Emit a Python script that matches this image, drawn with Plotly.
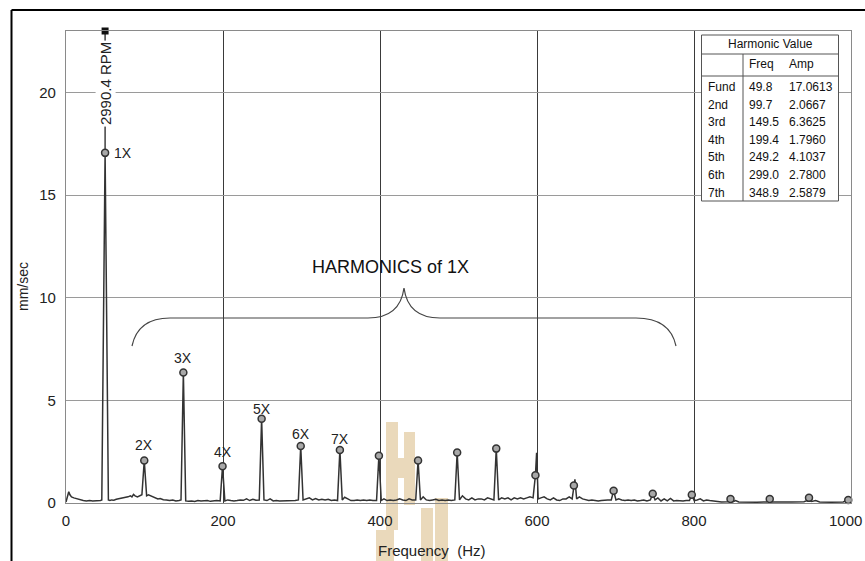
import plotly.graph_objects as go

# ---- harmonic table values (first seven orders) ----
harm_names = ["Fund", "2nd", "3rd", "4th", "5th", "6th", "7th"]
harm_freq = [49.8, 99.7, 149.5, 199.4, 249.2, 299.0, 348.9]
harm_amp = [17.0613, 2.0667, 6.3625, 1.7960, 4.1037, 2.7800, 2.5879]
harm_labels = ["1X", "2X", "3X", "4X", "5X", "6X", "7X"]

# ---- higher orders marked on the spectrum (8X .. 20X) ----
high_freq = [398.6, 448.5, 498.3, 548.1, 598.0, 647.0, 697.6,
             747.4, 797.2, 846.5, 896.5, 946.5, 996.5]
high_amp = [2.30, 2.07, 2.46, 2.65, 1.35, 0.85, 0.60,
            0.45, 0.40, 0.20, 0.20, 0.25, 0.15]

# ---- peaks that sit just beside a harmonic marker ----
extra_freq = [599.5, 648.3]
extra_amp = [2.45, 1.15]

# ---- noise floor and peak shoulders of the spectrum ----
floor_freq = [
    0, 2, 3.5, 5, 7, 10, 14, 18, 22, 26, 30, 34, 38, 42, 44, 45.6, 54.0,
    56, 58, 61, 64, 67, 70, 73, 76, 79, 82, 84, 86, 88, 91, 94, 96.7, 102.7,
    105, 108, 111, 114, 117, 120, 124, 128, 132, 136, 140, 144, 146.5, 152.5,
    156, 160, 164, 168, 172, 176, 180, 184, 188, 192, 196.4, 202.4,
    206, 210, 214, 218, 222, 226, 230, 234, 238, 242, 246.2, 252.2,
    256, 260, 264, 268, 272, 276, 280, 284, 288, 292, 296.0, 302.0,
    306, 310, 314, 318, 322, 326, 330, 334, 338, 342, 345.9, 351.9,
    355, 359, 363, 367, 371, 375, 379, 383, 387, 391, 395.6, 401.6,
    405, 409, 413, 417, 421, 425, 429, 433, 437, 441, 445.5, 451.5,
    455, 459, 463, 467, 471, 475, 479, 483, 487, 491, 495.3, 501.3,
    505, 509, 513, 517, 521, 525, 529, 533, 537, 541, 545.1, 551.1,
    555, 559, 563, 567, 571, 575, 579, 583, 587, 591, 595, 601.5,
    605, 609, 613, 617, 621, 625, 629, 633, 637, 641, 644.8, 650.5,
    654, 658, 662, 666, 670, 674, 678, 682, 686, 690, 694.6, 700.6,
    704, 708, 712, 716, 720, 724, 728, 732, 736, 740, 744.4, 750.4,
    754, 758, 762, 766, 770, 774, 778, 782, 786, 790, 794.2, 800.2,
    804, 808, 812, 816, 820, 824, 828, 835, 843, 849.5, 853, 857,
    865, 880, 893, 899.5, 910, 925, 940, 943, 950, 955, 960, 975, 990, 1000,
]
floor_amp = [
    0.05, 0.30, 0.55, 0.40, 0.30, 0.25, 0.20, 0.15, 0.12, 0.10, 0.12, 0.10, 0.11, 0.10, 0.12, 0.15, 0.15,
    0.12, 0.15, 0.14, 0.18, 0.20, 0.22, 0.25, 0.28, 0.30, 0.35, 0.30, 0.42, 0.35, 0.30, 0.35, 0.40, 0.35,
    0.40, 0.35, 0.32, 0.28, 0.20, 0.22, 0.16, 0.15, 0.12, 0.15, 0.10, 0.12, 0.15, 0.10,
    0.08, 0.10, 0.07, 0.12, 0.10, 0.10, 0.12, 0.08, 0.10, 0.12, 0.10, 0.10,
    0.15, 0.12, 0.10, 0.12, 0.15, 0.13, 0.20, 0.12, 0.18, 0.14, 0.15, 0.15,
    0.12, 0.20, 0.10, 0.12, 0.10, 0.10, 0.12, 0.10, 0.13, 0.12, 0.15, 0.15,
    0.20, 0.25, 0.15, 0.22, 0.15, 0.18, 0.15, 0.18, 0.12, 0.15, 0.12, 0.15,
    0.28, 0.20, 0.12, 0.12, 0.15, 0.12, 0.15, 0.12, 0.15, 0.12, 0.12, 0.12,
    0.20, 0.12, 0.15, 0.12, 0.15, 0.20, 0.15, 0.12, 0.20, 0.15, 0.15, 0.15,
    0.30, 0.15, 0.12, 0.15, 0.18, 0.12, 0.15, 0.12, 0.15, 0.12, 0.15, 0.15,
    0.35, 0.20, 0.15, 0.25, 0.15, 0.20, 0.20, 0.15, 0.25, 0.20, 0.15, 0.15,
    0.25, 0.20, 0.25, 0.15, 0.25, 0.20, 0.25, 0.20, 0.25, 0.30, 0.25, 0.20,
    0.25, 0.30, 0.20, 0.15, 0.25, 0.15, 0.12, 0.20, 0.20, 0.30, 0.20, 0.20,
    0.30, 0.20, 0.15, 0.12, 0.15, 0.12, 0.10, 0.12, 0.15, 0.15, 0.15, 0.15,
    0.20, 0.15, 0.12, 0.15, 0.12, 0.15, 0.10, 0.12, 0.15, 0.10, 0.15, 0.15,
    0.25, 0.10, 0.20, 0.10, 0.22, 0.10, 0.12, 0.10, 0.10, 0.12, 0.12, 0.12,
    0.15, 0.20, 0.10, 0.15, 0.12, 0.10, 0.05, 0.05, 0.06, 0.06, 0.12, 0.05,
    0.04, 0.04, 0.05, 0.05, 0.04, 0.05, 0.06, 0.10, 0.08, 0.12, 0.05, 0.04, 0.05, 0.10,
]

# axis ticks
x_ticks = [0, 200, 400, 600, 800, 1000]
y_ticks = [0, 5, 10, 15, 20]
X_MAX = 1000
Y_MAX = 23

# cursor readout at the running speed
rpm_text = "2990.4 RPM"

# ---- build the spectrum trace from floor + harmonic apexes ----
pts = list(zip(floor_freq, floor_amp))
pts += list(zip(harm_freq, harm_amp))
pts += list(zip(high_freq, high_amp))
pts += list(zip(extra_freq, extra_amp))
pts.sort(key=lambda p: p[0])
spec_f = [p[0] for p in pts]
spec_a = [p[1] for p in pts]

FONT = "Liberation Sans, Arial, Helvetica, sans-serif"

# plot-area geometry (pixels) used for paper-coordinate placement
L, R, T, B = 66, 851, 31, 503
W, H = 865, 561


def px(xp):
    return (xp - L) / (R - L)


def py(yp):
    return (B - yp) / (B - T)


fig = go.Figure()

# spectrum line
fig.add_trace(go.Scatter(
    x=spec_f, y=spec_a, mode="lines",
    line=dict(color="#333333", width=1.5),
    hoverinfo="skip", showlegend=False,
))

# cursor line from the 1X peak to the top, square handle at the top
fig.add_trace(go.Scatter(
    x=[harm_freq[0], harm_freq[0]], y=[harm_amp[0], Y_MAX],
    mode="lines", line=dict(color="#222222", width=1.3),
    hoverinfo="skip", showlegend=False,
))
fig.add_trace(go.Scatter(
    x=[harm_freq[0]], y=[Y_MAX], mode="markers",
    marker=dict(symbol="square", size=7, color="#111111"),
    cliponaxis=False, hoverinfo="skip", showlegend=False,
))

# harmonic markers
fig.add_trace(go.Scatter(
    x=harm_freq + high_freq, y=harm_amp + high_amp, mode="markers",
    marker=dict(symbol="circle", size=7, color="#a8a8a8",
                line=dict(color="#333333", width=1.5)),
    cliponaxis=False, hoverinfo="skip", showlegend=False,
))

annotations = []

# harmonic labels
label_shift = [0, 16, 14, 14, 10, 12, 11]
for i, lab in enumerate(harm_labels):
    if i == 0:
        annotations.append(dict(
            x=harm_freq[i], y=harm_amp[i], xref="x", yref="y",
            text=lab, showarrow=False, xanchor="left", yanchor="middle",
            xshift=7, font=dict(family=FONT, size=14, color="#222222"),
        ))
    else:
        annotations.append(dict(
            x=harm_freq[i], y=harm_amp[i], xref="x", yref="y",
            text=lab, showarrow=False, xanchor="center", yanchor="middle",
            yshift=label_shift[i], font=dict(family=FONT, size=14, color="#222222"),
        ))

# RPM readout on the cursor
annotations.append(dict(
    x=harm_freq[0], y=py(84), xref="x", yref="paper",
    text=rpm_text, textangle=-90, showarrow=False,
    xanchor="center", yanchor="middle", bgcolor="white", borderpad=1,
    font=dict(family=FONT, size=15, color="#222222"),
))

# brace caption
annotations.append(dict(
    x=px(390), y=py(267), xref="paper", yref="paper",
    text="HARMONICS of 1X", showarrow=False,
    xanchor="center", yanchor="middle",
    font=dict(family=FONT, size=18, color="#111111"),
))

# axis titles
annotations.append(dict(
    x=px(23), y=py(287), xref="paper", yref="paper",
    text="mm/sec", textangle=-90, showarrow=False,
    xanchor="center", yanchor="middle",
    font=dict(family=FONT, size=14, color="#222222"),
))
annotations.append(dict(
    x=px(432), y=py(550), xref="paper", yref="paper",
    text="Frequency\u00a0 (Hz)", showarrow=False,
    xanchor="center", yanchor="middle",
    font=dict(family=FONT, size=15, color="#222222"),
))

# last x tick label, pulled in so it stays inside the page
x_ticktext = [str(v) for v in x_ticks]
x_ticktext[-1] = ""
annotations.append(dict(
    x=px(864), y=py(520), xref="paper", yref="paper",
    text=str(x_ticks[-1]), showarrow=False,
    xanchor="right", yanchor="middle",
    font=dict(family=FONT, size=15, color="#222222"),
))

# harmonic value table text
TBL = dict(family=FONT, size=12, color="#111111")
annotations.append(dict(
    x=px(770), y=py(44), xref="paper", yref="paper", text="Harmonic Value",
    showarrow=False, xanchor="center", yanchor="middle", font=TBL,
))
annotations.append(dict(
    x=px(747), y=py(64), xref="paper", yref="paper", text="Freq",
    showarrow=False, xanchor="left", yanchor="middle", font=TBL,
))
annotations.append(dict(
    x=px(787), y=py(64), xref="paper", yref="paper", text="Amp",
    showarrow=False, xanchor="left", yanchor="middle", font=TBL,
))
row_y = [87, 105, 122, 140, 157, 175, 193]
for i, name in enumerate(harm_names):
    for xp, txt in ((706, name), (747, f"{harm_freq[i]:.1f}"), (787, f"{harm_amp[i]:.4f}")):
        annotations.append(dict(
            x=px(xp), y=py(row_y[i]), xref="paper", yref="paper", text=txt,
            showarrow=False, xanchor="left", yanchor="middle", font=TBL,
        ))

shapes = []

# outer frame (left and top edges)
shapes.append(dict(type="line", xref="paper", yref="paper",
                   x0=px(11.5), y0=py(W), x1=px(11.5), y1=py(10),
                   line=dict(color="black", width=2), layer="above"))
shapes.append(dict(type="line", xref="paper", yref="paper",
                   x0=px(11.5), y0=py(10), x1=px(W + 5), y1=py(10),
                   line=dict(color="black", width=2), layer="above"))

# curly brace spanning the harmonics
brace = (
    f"M {px(132)},{py(346)} "
    f"Q {px(138)},{py(318)} {px(170)},{py(318)} "
    f"L {px(368)},{py(318)} "
    f"Q {px(400)},{py(318)} {px(404)},{py(288)} "
    f"Q {px(408)},{py(318)} {px(440)},{py(318)} "
    f"L {px(636)},{py(318)} "
    f"Q {px(670)},{py(318)} {px(676)},{py(346)}"
)
shapes.append(dict(type="path", xref="paper", yref="paper", path=brace,
                   line=dict(color="#444444", width=1.2), layer="above"))

# table box
tx0, tx1, ty0, ty1 = px(701.5), px(838.5), py(35), py(201)
shapes.append(dict(type="rect", xref="paper", yref="paper",
                   x0=tx0, x1=tx1, y0=ty1, y1=ty0,
                   fillcolor="white", line=dict(color="#555555", width=1),
                   layer="above"))
for yl in (54, 76):
    shapes.append(dict(type="line", xref="paper", yref="paper",
                       x0=tx0, x1=tx1, y0=py(yl), y1=py(yl),
                       line=dict(color="#555555", width=1), layer="above"))
shapes.append(dict(type="line", xref="paper", yref="paper",
                   x0=px(743), x1=px(743), y0=py(54), y1=py(201),
                   line=dict(color="#555555", width=1), layer="above"))

# faint logo behind the frequency axis
WM = "rgba(214, 180, 120, 0.5)"
for (x0, y0, x1, y1) in [(386, 422, 398, 530), (376, 530, 394, 561),
                         (404, 432, 415, 505), (398, 458, 404, 478),
                         (421, 508, 433, 561), (435, 498, 448, 561)]:
    shapes.append(dict(type="rect", xref="paper", yref="paper",
                       x0=px(x0), x1=px(x1), y0=py(y1), y1=py(y0),
                       fillcolor=WM, line=dict(width=0), layer="below"))

fig.update_layout(
    width=W, height=H,
    margin=dict(l=L, r=W - R, t=T, b=H - B, pad=0),
    paper_bgcolor="white", plot_bgcolor="white",
    font=dict(family=FONT, size=15, color="#222222"),
    showlegend=False,
    annotations=annotations,
    shapes=shapes,
    xaxis=dict(
        range=[0, X_MAX], tickvals=x_ticks, ticktext=x_ticktext,
        showgrid=True, gridcolor="#3a3a3a", gridwidth=1,
        showline=True, mirror=True, linecolor="#8a8a8a", linewidth=1.2,
        zeroline=False, ticks="outside", ticklen=4, tickcolor="rgba(0,0,0,0)",
        tickfont=dict(family=FONT, size=15, color="#222222"), automargin=False,
    ),
    yaxis=dict(
        range=[0, Y_MAX], tickvals=y_ticks, ticktext=[str(v) for v in y_ticks],
        showgrid=True, gridcolor="#9a9a9a", gridwidth=1,
        showline=True, mirror=True, linecolor="#8a8a8a", linewidth=1.2,
        zeroline=False, ticks="outside", ticklen=6, tickcolor="rgba(0,0,0,0)",
        tickfont=dict(family=FONT, size=15, color="#222222"), automargin=False,
    ),
)

fig.write_html("out.html")
